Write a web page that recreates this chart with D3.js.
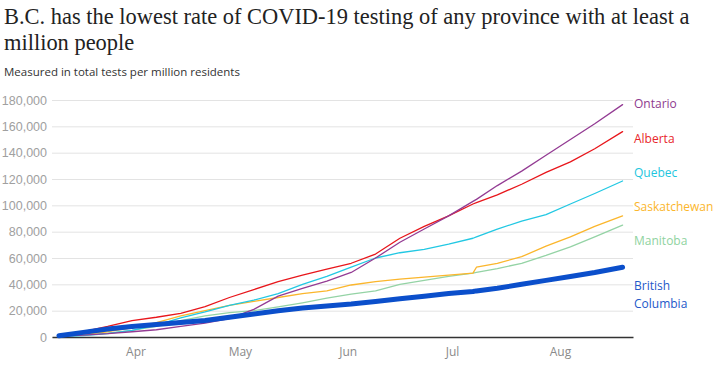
<!DOCTYPE html>
<html><head><meta charset="utf-8">
<script src="https://cdn.jsdelivr.net/npm/d3@7"></script>
<style>
body{margin:0;background:#fff;}
svg{display:block;}
</style></head><body>
<svg id="chart" width="718" height="368"></svg>
<script>
const dates = ["2020-03-10","2020-03-17","2020-03-24","2020-03-31","2020-04-07","2020-04-14","2020-04-21","2020-04-28","2020-05-05","2020-05-12","2020-05-19","2020-05-26","2020-06-02","2020-06-09","2020-06-16","2020-06-23","2020-06-30","2020-07-07","2020-07-08","2020-07-14","2020-07-21","2020-07-28","2020-08-04","2020-08-11","2020-08-19"];
const ontario      = [500,1500,2500,4000,5500,8000,10500,14000,21000,31000,37000,42500,49000,60000,72000,82000,92000,103000,104500,115000,126000,138000,150000,162000,176500];
const alberta      = [1000,4000,8000,12500,15000,18000,23000,30000,36000,42000,47000,51600,56000,63000,75000,84000,92000,101000,102000,108000,116000,125000,133000,143000,156000];
const quebec       = [300,1000,2500,5000,9000,14500,19000,24000,28000,33000,40000,46000,53000,60000,64000,66500,70500,75000,76000,82000,88000,93000,101000,109000,118500];
const saskatchewan = [500,2000,4000,7000,11000,16000,20000,24000,27000,30000,33000,35000,39500,42000,44000,45500,47000,48500,53000,56000,61000,69000,76000,84000,92000];
const manitoba     = [300,1500,3000,5000,8000,12500,16000,18500,20000,22800,26000,29500,32500,35000,40000,43000,46000,48500,49000,52000,56000,62000,68500,76000,85000];
const bc           = [1000,3500,6000,8000,9500,11000,12500,15000,17500,20000,22000,23500,25000,27000,29000,31000,33000,34500,35000,37000,40000,43000,46000,49000,53000];
const yTicks = [0,20000,40000,60000,80000,100000,120000,140000,160000,180000];
const monthTicks = ["2020-04-01","2020-05-01","2020-06-01","2020-07-01","2020-08-01"];

const parse = d3.utcParse("%Y-%m-%d");
const svg = d3.select("#chart");

const t1 = svg.append("text").attr("x",4).attr("y",24)
  .attr("font-family","Liberation Serif, serif").attr("font-size",24).attr("fill","#222")
  .text("B.C. has the lowest rate of COVID-19 testing of any province with at least a");
const t2 = svg.append("text").attr("x",4).attr("y",50)
  .attr("font-family","Liberation Serif, serif").attr("font-size",24).attr("fill","#222")
  .text("million people");
const fs = Math.min(24, 24 * 686 / t1.node().getComputedTextLength());
t1.attr("font-size",fs);
t2.attr("font-size",fs);

svg.append("text").attr("x",4).attr("y",76)
  .attr("font-family","Open Sans, sans-serif").attr("font-size",11.5).attr("fill","#333")
  .text("Measured in total tests per million residents");

const x = d3.scaleUtc().domain([parse("2020-03-08"), parse("2020-08-22")]).range([52,633]);
const y = d3.scaleLinear().domain([0,180000]).range([337,100]);

const yAxis = d3.axisLeft(y).tickValues(yTicks).tickSize(-581).tickFormat(d3.format(","));
const gy = svg.append("g").attr("transform","translate(52,0)").call(yAxis);
gy.select(".domain").remove();
gy.selectAll(".tick line").attr("stroke","#e3e3e3").attr("stroke-width",1);
gy.selectAll(".tick text").attr("x",-5).attr("fill","#a0a0a0")
  .attr("font-family","Liberation Sans, Arial, sans-serif").attr("font-size",12.5);

const xAxis = d3.axisBottom(x).tickValues(monthTicks.map(parse)).tickSize(0).tickFormat(d3.utcFormat("%b"));
const gx = svg.append("g").attr("transform","translate(0,337)").call(xAxis);
gx.select(".domain").attr("stroke","#333").attr("stroke-width",1.5);
gx.selectAll(".tick text").attr("y",10).attr("dy","0.71em").attr("fill","#8a8a8a")
  .attr("font-family","Open Sans, sans-serif").attr("font-size",12);

const series = [
  {name:"Manitoba", values:manitoba, color:"#94d3a5", w:1.3},
  {name:"Saskatchewan", values:saskatchewan, color:"#fbb62c", w:1.3},
  {name:"Quebec", values:quebec, color:"#22c8e3", w:1.3},
  {name:"Alberta", values:alberta, color:"#e8161b", w:1.3},
  {name:"Ontario", values:ontario, color:"#933b93", w:1.3},
  {name:"British Columbia", values:bc, color:"#0b4fcb", w:5}
];
const line = d3.line().x((d,i)=>x(parse(dates[i]))).y(d=>y(d));
svg.append("g").selectAll("path").data(series).join("path")
  .attr("d",d=>line(d.values)).attr("fill","none")
  .attr("stroke",d=>d.color).attr("stroke-width",d=>d.w)
  .attr("stroke-linejoin","round").attr("stroke-linecap","round");

const labels = [
  {lines:["Ontario"], y:104, color:"#8e3a8e"},
  {lines:["Alberta"], y:139, color:"#e8262b"},
  {lines:["Quebec"], y:173, color:"#1ec6de"},
  {lines:["Saskatchewan"], y:207, color:"#fbb62c"},
  {lines:["Manitoba"], y:241, color:"#8fd3a0"},
  {lines:["British","Columbia"], y:286, color:"#2358c9"}
];
labels.forEach(l=>{
  l.lines.forEach((t,i)=>{
    svg.append("text").attr("x",634).attr("y",l.y+i*17.5).attr("dy","0.35em")
      .attr("font-family","Open Sans, sans-serif").attr("font-size",12).attr("fill",l.color).text(t);
  });
});
</script>
</body></html>
